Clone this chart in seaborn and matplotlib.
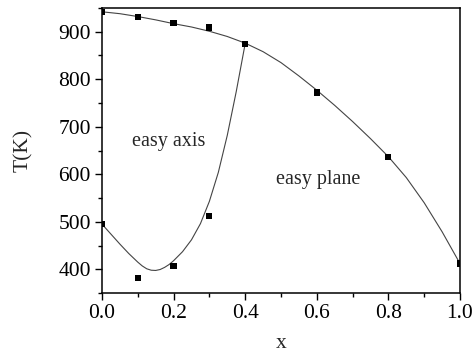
import numpy as np
import pandas as pd
import matplotlib
matplotlib.use('Agg')
import matplotlib.pyplot as plt
from matplotlib.ticker import MultipleLocator
import seaborn as sns

# measured points
upper_x = [0.0, 0.1, 0.2, 0.3, 0.4, 0.6, 0.8, 1.0]
upper_T = [941, 931, 919, 909, 875, 772, 636, 412]
lower_x = [0.0, 0.1, 0.2, 0.3]
lower_T = [495, 382, 407, 512]

# guide-to-eye curves
curve_hi_x = [0.0, 0.05, 0.1, 0.15, 0.2, 0.25, 0.3, 0.35, 0.4, 0.45, 0.5,
              0.55, 0.6, 0.65, 0.7, 0.75, 0.8, 0.85, 0.9, 0.95, 1.0]
curve_hi_T = [942, 938, 932, 925, 917, 910, 901, 890, 876, 858, 835,
              807, 777, 745, 711, 675, 637, 593, 540, 479, 412]
curve_lo_x = [0.0, 0.025, 0.05, 0.075, 0.1, 0.1125, 0.125, 0.1375, 0.15,
              0.1625, 0.175, 0.1875, 0.2, 0.225, 0.25, 0.275, 0.3, 0.325,
              0.35, 0.375, 0.4]
curve_lo_T = [495, 474, 453, 433, 415, 407, 401, 398, 397.5,
              399.5, 404, 410, 418, 437, 462, 496, 543, 604,
              682, 774, 875]

pts = pd.DataFrame({'x': upper_x + lower_x, 'T': upper_T + lower_T})
hi = pd.DataFrame({'x': curve_hi_x, 'T': curve_hi_T})
lo = pd.DataFrame({'x': curve_lo_x, 'T': curve_lo_T})

sns.set_style('ticks')
plt.rcParams['font.family'] = ['Liberation Serif', 'DejaVu Serif']

fig = plt.figure(figsize=(4.75, 3.55), dpi=100)
ax = fig.add_axes([0.2147, 0.1746, 0.9684 - 0.2147, 0.9775 - 0.1746])

sns.lineplot(data=hi, x='x', y='T', ax=ax, color='#444444', lw=0.8)
sns.lineplot(data=lo, x='x', y='T', ax=ax, color='#444444', lw=0.8)
sns.scatterplot(data=pts, x='x', y='T', ax=ax, marker='s', s=20,
                color='black', edgecolor='none', zorder=3)

ax.set_xlim(0, 1.0)
ax.set_ylim(350, 950)
ax.xaxis.set_major_locator(MultipleLocator(0.2))
ax.xaxis.set_minor_locator(MultipleLocator(0.1))
ax.yaxis.set_major_locator(MultipleLocator(100))
ax.yaxis.set_minor_locator(MultipleLocator(50))
ax.xaxis.set_major_formatter(plt.FuncFormatter(lambda v, p: f'{v:.1f}'))
ax.tick_params(which='major', direction='out', length=5, width=1,
               labelsize=15.5, color='black', labelcolor='black', pad=3)
ax.tick_params(which='minor', direction='out', length=3, width=1, color='black')
for s in ax.spines.values():
    s.set_color('black')
    s.set_linewidth(1.1)

ax.set_xlabel('x', fontsize=15.5, labelpad=8)
ax.set_ylabel('T(K)', fontsize=15.5, labelpad=18)

ax.text(0.185, 668, 'easy axis', fontsize=14.5, ha='center', va='center')
ax.text(0.603, 590, 'easy plane', fontsize=14.5, ha='center', va='center')

fig.savefig('out.png', dpi=100)
